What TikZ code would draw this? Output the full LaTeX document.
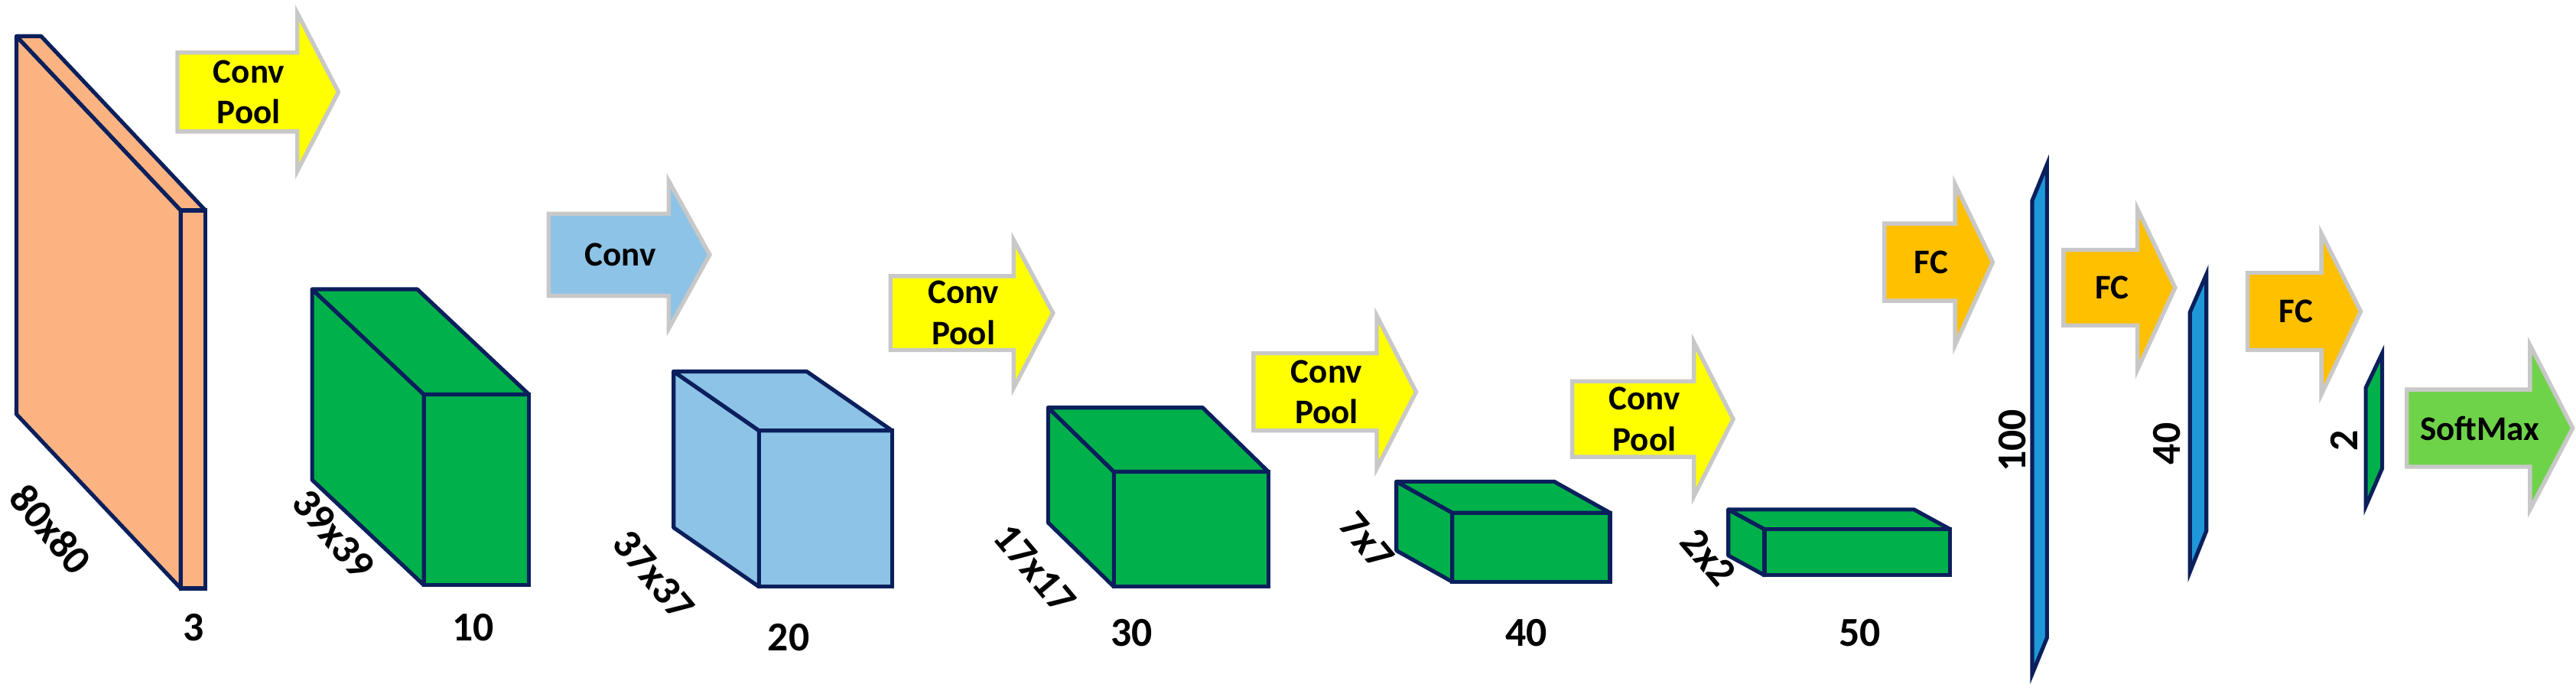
\documentclass[tikz,border=0pt]{standalone}
\usepackage{fontspec}
\setmainfont{Carlito}
\definecolor{edge}{HTML}{0B1F5C}
\definecolor{slabc}{HTML}{FBB382}
\definecolor{greenc}{HTML}{00B04A}
\definecolor{lblue}{HTML}{8DC3E6}
\definecolor{yel}{HTML}{FFFF00}
\definecolor{fcc}{HTML}{FFC000}
\definecolor{plate}{HTML}{1E98D8}
\definecolor{smc}{HTML}{6FD34A}
\definecolor{arrb}{HTML}{C8C8C8}
\newcommand\mycuboid[7]{%
 \fill[#7] (#1,#3)--(#2,#3)--(#2,#4)--(#1,#4)--cycle;
 \filldraw[#7,draw=edge,line width=2.4pt,line join=round] (#1,#3)--++(#5,#6)--++(0,#4-#3)--(#1,#4)--cycle;
 \filldraw[#7,draw=edge,line width=2.4pt,line join=round] (#1,#3)--++(#5,#6)--++(#2-#1,0)--(#2,#3)--cycle;
 \draw[edge,line width=2.4pt] (#1,#3) rectangle (#2,#4);}
\newcommand\myarrow[9]{%
 \filldraw[fill=#8,draw=arrb,line width=2.5pt,line join=miter] (#1,#3)--(#2,#3)--(#2,#5)--(#7,{(#3+#4)/2})--(#2,#6)--(#2,#4)--(#1,#4)--cycle;
 \node[lbl,align=center,font=\bfseries\fontsize{21}{25}\selectfont] at ({(#1+#2)/2+7},{(#3+#4)/2}) {#9};}
\tikzset{lbl/.style={font=\bfseries\fontsize{25}{27}\selectfont,inner sep=0pt}}
\begin{document}
\begin{tikzpicture}[x=1pt,y=-1pt]
\useasboundingbox (0,0) rectangle (1568,422);
% layers
\mycuboid{110}{125}{128}{358}{-100}{-106}{slabc}
\mycuboid{258}{322}{240}{356}{-68}{-64}{greenc}
\mycuboid{462}{543}{262}{357}{-52}{-36}{lblue}
\mycuboid{678}{772}{287}{357}{-40}{-39}{greenc}
\mycuboid{884}{980}{312}{354}{-34}{-19}{greenc}
\mycuboid{1074}{1187}{322}{350}{-22}{-12}{greenc}
% plates
\filldraw[plate,draw=edge,line width=2.4pt] (1246,100)--(1246,388)--(1237,410)--(1237,122)--cycle;
\filldraw[plate,draw=edge,line width=2.4pt] (1343,167)--(1343,323)--(1333,348)--(1333,190)--cycle;
\filldraw[greenc,draw=edge,line width=2.4pt] (1450,215)--(1450,285)--(1440,308)--(1440,236)--cycle;
% arrows
\myarrow{108}{181}{32}{80}{8}{104}{206}{yel}{Conv\\Pool}
\myarrow{334}{407}{130}{180}{110}{200}{432}{lblue}{Conv}
\myarrow{542}{617}{168}{213}{146}{236}{641}{yel}{Conv\\Pool}
\myarrow{763}{838}{215}{262}{192}{285}{862}{yel}{Conv\\Pool}
\myarrow{957}{1031}{232}{278}{208}{302}{1055}{yel}{Conv\\Pool}
\myarrow{1147}{1190}{136}{183}{112}{210}{1213}{fcc}{FC}
\myarrow{1256}{1301}{152}{198}{127}{225}{1324}{fcc}{FC}
\myarrow{1368}{1413}{166}{213}{142}{240}{1437}{fcc}{FC}
\myarrow{1465}{1540}{237}{284}{210}{310}{1566}{smc}{SoftMax}
% labels
\node[lbl,rotate=-50] (l1) at (31,322) {80x80};
\node[lbl] (n1) at (118,382) {3};
\node[lbl,rotate=-50] (l2) at (203,325) {39x39};
\node[lbl] (n2) at (288,382) {10};
\node[lbl,rotate=-50] (l3) at (398,350) {37x37};
\node[lbl] (n3) at (480,388) {20};
\node[lbl,rotate=-50] (l4) at (630,346) {17x17};
\node[lbl] (n4) at (689,385) {30};
\node[lbl,rotate=-50] (l5) at (832,329) {7x7};
\node[lbl] (n5) at (929,385) {40};
\node[lbl,rotate=-50] (l6) at (1040,339) {2x2};
\node[lbl] (n6) at (1132,385) {50};
\node[lbl,rotate=90] (p1) at (1225,268) {100};
\node[lbl,rotate=90] (p2) at (1319,270) {40};
\node[lbl,rotate=90] (p3) at (1427,268) {2};
\end{tikzpicture}
\end{document}
